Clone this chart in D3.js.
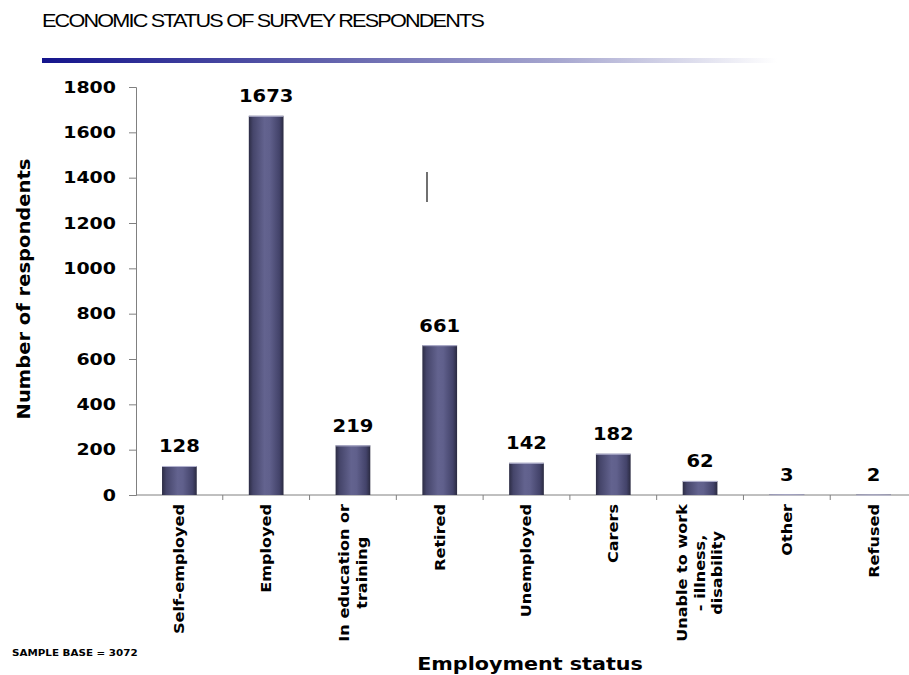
<!DOCTYPE html>
<html>
<head>
<meta charset="utf-8">
<script src="https://cdn.jsdelivr.net/npm/d3@7"></script>
<style>
  html, body { margin: 0; padding: 0; background: #fff; }
  svg { display: block; }
</style>
</head>
<body>
<svg id="chart" width="909" height="675"></svg>
<script>
// Employment categories (label lines) and respondent counts
const categories = [
  ["Self-employed"],
  ["Employed"],
  ["In education or", "training"],
  ["Retired"],
  ["Unemployed"],
  ["Carers"],
  ["Unable to work", "- illness,", "disability"],
  ["Other"],
  ["Refused"]
];
const counts = [128, 1673, 219, 661, 142, 182, 62, 3, 2];
const yTicks = [0, 200, 400, 600, 800, 1000, 1200, 1400, 1600, 1800];

const titleText = "ECONOMIC STATUS OF SURVEY RESPONDENTS";
const yTitle = "Number of respondents";
const xTitle = "Employment status";
const baseNote = "SAMPLE BASE = 3072";

const svg = d3.select("#chart");
const boldFont = "'DejaVu Sans', Verdana, sans-serif";
const wide = 1.15; // horizontal stretch giving the broad Verdana-like look

const margin = { left: 136, top: 87, bottom: 495, right: 917 };
const keys = categories.map((c, i) => i);

const x = d3.scaleBand().domain(keys).range([margin.left, margin.right]).paddingInner(0.6).paddingOuter(0.3);
const xGrid = d3.scaleBand().domain(keys).range([margin.left, margin.right]).padding(0);
const y = d3.scaleLinear().domain([0, 1800]).range([margin.bottom, margin.top]);

// Bold label placed at (px, py) and stretched horizontally about its anchor
function boldLabel(parent, px, py, txt, size, anchor) {
  return parent.append("text")
    .attr("transform", `translate(${px},${py}) scale(${wide},1)`)
    .attr("text-anchor", anchor || "start")
    .attr("font-family", boldFont).attr("font-weight", "bold")
    .attr("font-size", size).attr("fill", "#000")
    .text(txt);
}

// Gradients
const defs = svg.append("defs");
const barGrad = defs.append("linearGradient").attr("id", "barGrad").attr("x1", 0).attr("x2", 1).attr("y1", 0).attr("y2", 0);
[[0, "#2c2c44"], [0.12, "#45456a"], [0.45, "#63638f"], [0.6, "#60608c"], [0.88, "#43436a"], [1, "#2a2a40"]]
  .forEach(([o, c]) => barGrad.append("stop").attr("offset", o).attr("stop-color", c));

const ruleGrad = defs.append("linearGradient").attr("id", "ruleGrad").attr("x1", 0).attr("x2", 1).attr("y1", 0).attr("y2", 0);
[[0, "#14148c"], [0.35, "#5a5aa8"], [0.7, "#a6a6cf"], [1, "#ffffff"]]
  .forEach(([o, c]) => ruleGrad.append("stop").attr("offset", o).attr("stop-color", c));

// Title and rule
svg.append("text")
  .attr("x", 42).attr("y", 27)
  .attr("font-family", "'Liberation Sans', Arial, sans-serif")
  .attr("font-size", 18)
  .attr("letter-spacing", "-1.5")
  .attr("textLength", 441)
  .attr("lengthAdjust", "spacingAndGlyphs")
  .attr("fill", "#000")
  .text(titleText);

svg.append("rect")
  .attr("x", 42).attr("y", 58).attr("width", 735).attr("height", 5)
  .attr("fill", "url(#ruleGrad)");

// Y axis
const yAxis = d3.axisLeft(y).tickValues(yTicks).tickFormat(d3.format("d")).tickSize(7).tickPadding(13);
const gy = svg.append("g").attr("transform", `translate(${margin.left},0)`).call(yAxis);
gy.select(".domain").attr("stroke", "#808080");
gy.selectAll(".tick line").attr("stroke", "#808080");
gy.selectAll(".tick text")
  .attr("font-family", boldFont).attr("font-weight", "bold")
  .attr("font-size", 16.5).attr("fill", "#000")
  .each(function () {
    const t = d3.select(this);
    const px = +t.attr("x");
    t.attr("x", 0).attr("transform", `translate(${px},0) scale(${wide},1)`);
  });

// X axis (ticks between categories)
const gx = svg.append("g").attr("transform", `translate(0,${margin.bottom})`);
gx.append("line")
  .attr("x1", margin.left).attr("x2", margin.right)
  .attr("y1", 0).attr("y2", 0)
  .attr("stroke", "#808080");
gx.selectAll("line.tick")
  .data(keys.slice(1))
  .join("line")
  .attr("class", "tick")
  .attr("x1", d => xGrid(d)).attr("x2", d => xGrid(d))
  .attr("y1", 0).attr("y2", 5)
  .attr("stroke", "#808080");

// Bars
svg.selectAll("rect.bar")
  .data(counts)
  .join("rect")
  .attr("class", "bar")
  .attr("x", (d, i) => x(i))
  .attr("width", x.bandwidth())
  .attr("y", d => y(d))
  .attr("height", d => margin.bottom - y(d))
  .attr("fill", "url(#barGrad)");

// Light top edge of each bar
svg.selectAll("line.cap")
  .data(counts)
  .join("line")
  .attr("class", "cap")
  .attr("x1", (d, i) => x(i)).attr("x2", (d, i) => x(i) + x.bandwidth())
  .attr("y1", d => y(d) + 0.5).attr("y2", d => y(d) + 0.5)
  .attr("stroke", "#b4b4d0").attr("stroke-width", 1);

// Value labels
counts.forEach((d, i) => {
  boldLabel(svg, x(i) + x.bandwidth() / 2, y(d) - 13.5, d, 17, "middle");
});

// Rotated category labels, lines centred within each block
const lineGap = 17.5;
categories.forEach((lines, i) => {
  const cx = xGrid(i) + xGrid.bandwidth() / 2;
  const g = svg.append("g")
    .attr("transform", `translate(${cx},504) rotate(-90) scale(${wide},1)`);
  const texts = lines.map((t, j) => g.append("text")
    .attr("font-family", boldFont).attr("font-weight", "bold")
    .attr("font-size", 14).attr("fill", "#000")
    .attr("text-anchor", "middle")
    .attr("dy", "0.35em")
    .attr("y", (j - (lines.length - 1) / 2) * lineGap)
    .text(t));
  const maxLen = d3.max(texts, t => t.node().getComputedTextLength());
  texts.forEach(t => t.attr("x", -maxLen / 2));
});

// Axis titles
svg.append("text")
  .attr("transform", `translate(30,289) rotate(-90) scale(${wide},1)`)
  .attr("text-anchor", "middle")
  .attr("font-family", boldFont).attr("font-weight", "bold")
  .attr("font-size", 17).attr("fill", "#000")
  .text(yTitle);

boldLabel(svg, 530, 670, xTitle, 18, "middle");
boldLabel(svg, 12, 656, baseNote, 9, "start");

// Short vertical stroke in the plot area
svg.append("line")
  .attr("x1", 427).attr("x2", 427)
  .attr("y1", 172).attr("y2", 202)
  .attr("stroke", "#111").attr("stroke-width", 1.2);
</script>
</body>
</html>
